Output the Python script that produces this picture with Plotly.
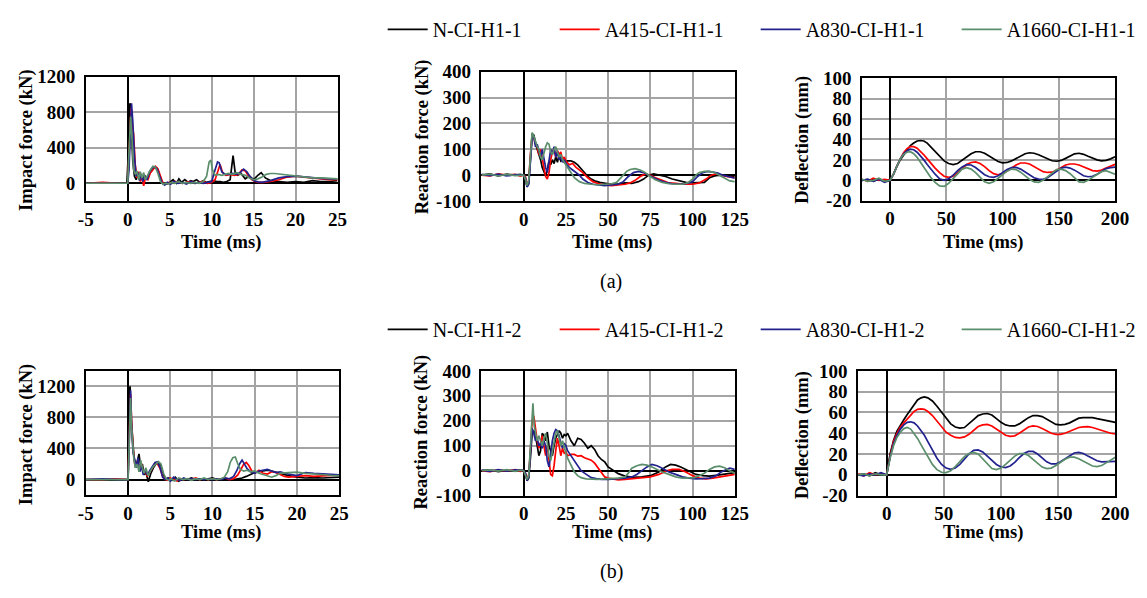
import plotly.graph_objects as go

# ---------------------------------------------------------------- data ----
# Impact force (kN) vs time (ms), series set 1
imp_a_N_t = [-5, -3, -1, -0.1, 0.05, 0.2, 0.3, 0.45, 0.6, 0.8, 1.0, 1.2, 1.4, 1.6, 1.8, 2.0, 2.3, 2.6, 2.9, 3.2,
             3.5, 3.8, 4.1, 4.4, 4.7, 5.0, 5.4, 5.8, 6.1, 6.4, 6.8, 7.2, 7.5, 7.8, 8.2, 8.6, 9.0, 9.4, 9.8, 10.2,
             10.6, 11.0, 11.4, 11.8, 12.2, 12.4, 12.55, 12.8, 13.1, 13.5, 14.0, 14.5, 15.0, 15.5, 15.9, 16.4, 17.0,
             18.0, 19.0, 20.0, 21.0, 22.0, 23.0, 24.0, 25.0]
imp_a_N = [0, 0, 0, 0, 300, 880, 900, 600, 250, 80, 40, 120, 60, 100, 30, 90, 40, 110, 150, 180,
           170, 90, 10, 0, -10, 10, 40, 0, 50, 10, 40, 10, 30, 20, 40, 10, 30, 10, 20, 30,
           20, 20, 10, 20, 40, 200, 310, 120, 90, 110, 50, 80, 40, 90, 120, 60, 30,
           20, 10, 20, 10, 30, 20, 20, 30]
imp_a_R_t = [-5, -3, -1, 0, 0.1, 0.3, 0.4, 0.55, 0.7, 0.9, 1.1, 1.3, 1.5, 1.7, 1.9, 2.1, 2.4, 2.7, 3.0, 3.3,
             3.6, 3.9, 4.2, 4.5, 4.8, 5.2, 5.6, 6.0, 6.5, 7.0, 7.5, 8.0, 8.5, 9.0, 9.5, 10.0, 10.4, 10.8, 11.0, 11.3,
             11.7, 12.2, 12.7, 13.2, 13.6, 14.0, 14.4, 14.8, 15.2, 15.6, 16.2, 17.0, 18.0, 19.0, 20.0, 21.0, 22.0,
             23.0, 24.0, 25.0]
imp_a_R = [0, 10, 0, 0, 200, 750, 850, 650, 550, 200, 60, 130, 20, 80, -30, 60, 40, 120, 160, 190,
           160, 70, 0, -10, 10, 0, 20, 10, 0, 10, 20, 0, 10, 20, 0, 10, 40, 150, 210, 120,
           90, 100, 90, 100, 150, 140, 80, 40, 20, 10, 10, 20, 40, 70, 80, 70, 60, 50, 40, 40]
imp_a_B_t = [-5, -3, -1, 0, 0.15, 0.3, 0.45, 0.6, 0.8, 1.0, 1.2, 1.4, 1.6, 1.8, 2.0, 2.3, 2.6, 2.9, 3.2, 3.5,
             3.8, 4.1, 4.4, 4.7, 5.1, 5.5, 6.0, 6.5, 7.0, 7.5, 8.0, 8.5, 9.0, 9.5, 10.0, 10.4, 10.7, 10.9, 11.2,
             11.6, 12.0, 12.5, 13.0, 13.4, 13.8, 14.2, 14.6, 15.0, 15.5, 16.0, 17, 18, 19, 20, 21, 22, 23, 24, 25]
imp_a_B = [0, 0, 0, 0, 150, 600, 900, 700, 300, 80, 120, 30, 100, 20, 80, 40, 130, 170, 185, 160,
           80, 0, -20, 10, -10, 20, 0, 10, -10, 20, 0, 10, 0, 10, 20, 150, 240, 230, 130,
           100, 100, 110, 100, 120, 160, 130, 70, 30, 15, 10, 30, 60, 75, 80, 70, 60, 55, 50, 50]
imp_a_G_t = [-5, -3, -1, 0, 0.1, 0.25, 0.35, 0.5, 0.7, 0.9, 1.1, 1.3, 1.5, 1.7, 1.9, 2.1, 2.4, 2.7, 3.0, 3.3,
             3.6, 3.9, 4.2, 4.5, 4.8, 5.2, 5.6, 6.0, 6.5, 7.0, 7.5, 8.0, 8.5, 9.0, 9.4, 9.7, 9.9, 10.1, 10.4, 10.8,
             11.2, 11.6, 12.0, 12.5, 13.0, 13.5, 14.0, 14.5, 15.0, 15.5, 16.0, 16.5, 17.0, 17.5, 18.0, 18.5, 19,
             20, 21, 22, 23, 24, 25]
imp_a_G = [0, 0, 0, 0, 250, 650, 750, 500, 150, 100, 140, 40, 130, 60, 120, 40, 100, 150, 190, 180,
           110, 20, -10, 0, -10, 10, 0, 20, 0, 10, 0, 10, 0, 20, 80, 240, 260, 150, 90, 100,
           90, 100, 110, 100, 120, 100, 90, 60, 40, 50, 70, 100, 110, 110, 105, 100, 90,
           80, 70, 60, 60, 55, 50]

# Impact force (kN) vs time (ms), series set 2
imp_b_N_t = [-5, -3, -1, 0, 0.05, 0.15, 0.25, 0.35, 0.5, 0.7, 0.9, 1.1, 1.3, 1.5, 1.7, 1.9, 2.1, 2.4, 2.7, 3.0,
             3.3, 3.6, 3.9, 4.2, 4.5, 4.8, 5.2, 5.6, 6.0, 6.5, 7.0, 7.5, 8.0, 8.5, 9.0, 9.5, 10.0, 10.5, 11.0, 11.5,
             12.0, 12.5, 13.0, 13.5, 14.0, 14.5, 15.0, 15.5, 16.0, 16.5, 17.0, 17.5, 18.0, 19, 20, 21, 22, 23, 24, 25]
imp_b_N = [0, 0, 0, 0, 500, 1150, 1200, 800, 600, 300, 150, 250, 330, 150, 200, 60, 100, -30, 80, 150,
           200, 220, 180, 60, 0, 20, -10, 30, -20, 10, 0, 20, 0, 10, 0, 10, 20, 0, 10, 0,
           10, 0, 10, 20, 40, 70, 90, 100, 110, 120, 110, 90, 80, 50, 30, 20, 25, 20, 25, 30]
imp_b_R_t = [-5, -3, -1.5, 0, 0.1, 0.2, 0.3, 0.45, 0.6, 0.8, 1.0, 1.2, 1.4, 1.6, 1.8, 2.0, 2.3, 2.6, 2.9, 3.2,
             3.5, 3.8, 4.1, 4.4, 4.7, 5.0, 5.4, 5.8, 6.2, 6.6, 7.0, 7.5, 8.0, 8.5, 9.0, 9.5, 10.0, 10.5, 11.0, 11.5,
             12.0, 12.5, 13.0, 13.4, 13.7, 14.0, 14.3, 14.7, 15.1, 15.5, 16.0, 16.5, 17.0, 17.5, 18.0, 18.5, 19,
             20, 21, 22, 23, 24, 25]
imp_b_R = [0, 0, 10, 0, 400, 900, 1100, 700, 400, 200, 180, 250, 120, 200, 80, 120, 40, 100, 160, 210,
           200, 140, 40, 0, -10, 20, 0, -20, 10, 0, 10, 0, 20, 0, 10, 0, 10, 0, 10, 20,
           0, 10, 60, 150, 200, 220, 180, 100, 90, 120, 80, 70, 100, 90, 60, 40, 30,
           40, 50, 40, 45, 55, 60]
imp_b_B_t = [-5, -3, -1, 0, 0.1, 0.2, 0.3, 0.45, 0.6, 0.8, 1.0, 1.2, 1.4, 1.6, 1.8, 2.0, 2.3, 2.6, 2.9, 3.2,
             3.5, 3.8, 4.1, 4.4, 4.7, 5.0, 5.4, 5.8, 6.2, 6.6, 7.0, 7.5, 8.0, 8.5, 9.0, 9.5, 10.0, 10.5, 11.0, 11.5,
             12.0, 12.5, 12.9, 13.2, 13.5, 13.8, 14.1, 14.5, 15.0, 15.5, 16.0, 16.5, 17.0, 17.5, 18.0, 18.5, 19,
             20, 21, 22, 23, 24, 25]
imp_b_B = [0, 10, 0, 0, 300, 800, 1150, 600, 350, 250, 150, 280, 100, 180, 60, 120, 60, 120, 180, 220,
           230, 150, 30, 0, 20, -20, 30, 0, -10, 20, 0, 10, 0, 10, 0, 10, 0, 10, 0, 20,
           10, 40, 120, 200, 250, 200, 140, 100, 80, 110, 120, 130, 110, 90, 100, 80, 70,
           50, 90, 80, 75, 70, 60]
imp_b_G_t = [-5, -3, -1, 0, 0.1, 0.2, 0.3, 0.4, 0.55, 0.7, 0.9, 1.1, 1.3, 1.5, 1.7, 1.9, 2.1, 2.4, 2.7, 3.0,
             3.3, 3.6, 3.9, 4.2, 4.5, 4.8, 5.1, 5.5, 6.0, 6.5, 7.0, 7.5, 8.0, 8.5, 9.0, 9.5, 10.0, 10.5, 11.0, 11.4,
             11.8, 12.1, 12.4, 12.7, 13.0, 13.3, 13.7, 14.1, 14.5, 15.0, 15.5, 16.0, 16.5, 17.0, 17.5, 18.0, 19,
             20, 21, 22, 23, 24, 25]
imp_b_G = [0, 0, 0, 0, 300, 800, 1050, 700, 500, 250, 150, 200, 100, 250, 150, 80, 150, 50, 120, 170,
           200, 230, 200, 80, 10, -10, 10, -20, 20, 0, 10, -10, 10, 0, 20, 0, 10, 0, 10, 30,
           100, 220, 280, 290, 200, 130, 110, 120, 100, 110, 80, 60, 40, 30, 50, 80, 90,
           95, 80, 70, 60, 55, 50]

# Reaction force (kN) vs time (ms), (t, F) pairs
react_a_N = [(-25, 0), (-20, 5), (-15, -3), (-10, 4), (-5, 0), (-2, 3), (0, 0), (1, -10), (2, -45), (3, -30),
             (4, 60), (5, 160), (6, 155), (7, 120), (8, 100), (9, 80), (10, 60), (11, 30), (12, 10), (13, -2),
             (14, 20), (15, 55), (16, 40), (17, 60), (18, 45), (19, 70), (20, 50), (21, 80), (22, 55), (23, 60),
             (24, 50), (26, 55), (28, 55), (30, 50), (32, 40), (34, 25), (36, 12), (38, -5), (40, -15), (42, -22),
             (45, -28), (48, -32), (52, -35), (56, -33), (60, -30), (64, -32), (68, -25), (71, -15), (74, 0),
             (77, 5), (80, 0), (84, -5), (88, -15), (92, -22), (96, -28), (100, -30), (104, -30), (107, -28),
             (110, -10), (113, -3), (116, 0), (120, -3), (125, -5)]
react_a_R = [(-25, 0), (-20, -3), (-15, 5), (-10, 0), (-5, 3), (-2, -4), (0, 0), (1, -5), (2, -40), (3, -20),
             (4, 80), (5, 150), (6, 145), (7, 120), (8, 110), (9, 80), (10, 100), (11, 60), (12, 20), (13, -5),
             (14, -15), (15, 10), (16, 60), (17, 90), (18, 100), (19, 70), (20, 95), (21, 80), (22, 90), (23, 60),
             (24, 70), (25, 55), (27, 40), (29, 45), (31, 30), (33, 20), (35, 10), (38, -10), (41, -25), (44, -32),
             (48, -38), (52, -40), (56, -38), (60, -35), (63, -30), (66, -20), (69, -5), (72, 5), (75, 0),
             (78, -10), (82, -20), (86, -30), (90, -32), (95, -35), (100, -35), (104, -30), (108, -15), (111, 0),
             (114, 5), (117, 0), (120, -5), (125, -10)]
react_a_B = [(-25, 3), (-20, -2), (-15, 4), (-10, -3), (-5, 2), (-2, 0), (0, 0), (1, -10), (2, -45), (3, -35),
             (4, 50), (5, 140), (6, 150), (7, 110), (8, 120), (9, 90), (10, 70), (11, 100), (12, 60), (13, 30),
             (14, 10), (15, 60), (16, 100), (17, 80), (18, 110), (19, 70), (20, 90), (21, 60), (22, 70), (23, 50),
             (24, 60), (25, 45), (27, 30), (29, 20), (31, 10), (33, 0), (35, -15), (38, -28), (41, -35), (44, -38),
             (48, -40), (52, -38), (56, -35), (59, -25), (62, -5), (65, 10), (68, 15), (71, 10), (74, 0),
             (77, -10), (80, -20), (84, -28), (88, -33), (92, -35), (96, -33), (100, -25), (103, -5), (106, 10),
             (109, 15), (112, 12), (115, 8), (118, 0), (121, -5), (125, -12)]
react_a_G = [(-25, 0), (-20, 4), (-15, -3), (-10, 3), (-5, -2), (-2, 0), (0, 0), (1, -15), (2, -40), (3, -20),
             (4, 90), (5, 165), (6, 150), (7, 130), (8, 110), (9, 100), (10, 70), (11, 60), (12, 90), (13, 110),
             (14, 125), (15, 120), (16, 90), (17, 80), (18, 100), (19, 110), (20, 90), (21, 70), (22, 80),
             (23, 60), (24, 50), (25, 40), (26, 30), (28, 10), (30, -10), (33, -25), (36, -32), (40, -35),
             (44, -37), (48, -35), (52, -33), (55, -28), (57, -15), (59, 0), (61, 15), (63, 22), (66, 25),
             (69, 20), (72, 10), (75, -5), (78, -18), (82, -28), (86, -33), (90, -35), (94, -35), (97, -30),
             (100, -15), (102, 0), (104, 10), (107, 15), (110, 15), (113, 10), (116, 0), (119, -12), (122, -22),
             (125, -25)]

react_b_N = [(-25, 0), (-20, 3), (-15, -4), (-10, 2), (-5, -2), (-2, 3), (0, 0), (1, -10), (2, -40), (3, -30),
             (4, 50), (5, 150), (6, 160), (7, 140), (8, 100), (9, 60), (10, 80), (11, 150), (12, 140), (13, 120),
             (14, 155), (15, 100), (16, 80), (17, 60), (18, 100), (19, 130), (20, 145), (21, 160), (22, 150),
             (23, 130), (24, 145), (25, 140), (26, 150), (28, 120), (30, 100), (32, 130), (34, 125), (36, 110),
             (38, 90), (40, 100), (42, 85), (44, 60), (46, 45), (48, 35), (50, 15), (53, 0), (56, -12), (60, -22),
             (65, -27), (70, -25), (75, -20), (80, -5), (84, 15), (87, 25), (90, 22), (93, 15), (96, 5), (99, -5),
             (102, -15), (106, -20), (110, -22), (115, -18), (120, -12), (125, -8)]
react_b_R = [(-25, 0), (-20, -4), (-15, 3), (-10, -2), (-5, 4), (-2, -3), (0, 0), (1, -12), (2, -35), (3, -15),
             (4, 80), (5, 200), (6, 220), (7, 160), (8, 120), (9, 90), (10, 110), (11, 140), (12, 100), (13, 60),
             (14, 100), (15, 40), (16, -15), (17, -20), (18, 20), (19, 80), (20, 130), (21, 100), (22, 60),
             (23, 90), (24, 70), (25, 75), (26, 60), (28, 65), (30, 65), (32, 58), (34, 60), (36, 52), (38, 48),
             (40, 42), (42, 30), (44, 10), (46, -10), (48, -25), (50, -30), (53, -35), (56, -37), (60, -35),
             (65, -32), (70, -30), (75, -25), (80, -15), (85, 0), (88, 5), (92, 5), (96, -5), (100, -20),
             (104, -30), (108, -33), (112, -30), (116, -25), (120, -20), (125, -15)]
react_b_B = [(-25, 2), (-20, -3), (-15, 4), (-10, -2), (-5, 3), (-2, 0), (0, 0), (1, -10), (2, -40), (3, -25),
             (4, 60), (5, 170), (6, 150), (7, 120), (8, 130), (9, 100), (10, 110), (11, 90), (12, 120), (13, 100),
             (14, 40), (15, 15), (16, 60), (17, 120), (18, 150), (19, 165), (20, 160), (21, 140), (22, 110),
             (23, 90), (24, 110), (25, 100), (26, 80), (28, 60), (30, 40), (32, 20), (34, 0), (36, -10), (38, -20),
             (40, -28), (43, -32), (46, -35), (50, -35), (55, -33), (60, -30), (64, -25), (67, -15), (70, 0),
             (73, 15), (76, 25), (79, 20), (82, 10), (86, -5), (90, -15), (94, -25), (98, -30), (102, -33),
             (106, -32), (110, -30), (114, -20), (117, -5), (120, 5), (122, 10), (125, 5)]
react_b_G = [(-25, 0), (-20, 3), (-15, -2), (-10, 4), (-5, -3), (-2, 2), (0, 0), (1, -15), (2, -35), (3, -20),
             (4, 100), (4.8, 230), (5.5, 270), (6.2, 180), (7, 150), (8, 120), (9, 140), (10, 120), (11, 100),
             (12, 130), (13, 150), (14, 110), (15, 60), (16, 40), (17, 80), (18, 120), (19, 150), (20, 160),
             (21, 130), (22, 100), (23, 120), (24, 90), (25, 70), (26, 50), (28, 20), (30, -5), (32, -20),
             (34, -28), (37, -33), (40, -35), (44, -35), (48, -33), (52, -32), (56, -30), (60, -25), (62, -10),
             (64, 10), (67, 20), (70, 25), (73, 22), (76, 15), (79, 5), (82, -5), (86, -15), (90, -25), (94, -30),
             (98, -30), (101, -28), (104, -20), (107, -10), (110, 5), (113, 15), (116, 18), (119, 12), (122, 0),
             (125, -10)]

# Deflection (mm) vs time (ms), shared sampling times
t_defl = [-25, -20, -15, -10, -5, 0, 3, 6, 9, 12, 15, 18, 21, 24, 27, 30, 33, 36,
          40, 44, 48, 52, 56, 60, 64, 68, 72, 76, 80, 84, 88, 92, 96, 100, 104, 108, 112, 116, 120, 124,
          128, 132, 136, 140, 144, 148, 152, 156, 160, 164, 168, 172, 176, 180, 184, 188, 192, 196, 200]
defl_a_N = [0, 1, -1, 1.5, -1, 0, 6, 14, 20, 25, 30, 34, 36.5, 38.5, 39, 38.5, 36.5, 33,
            28, 23, 19, 16.5, 15.5, 16.5, 19.5, 23, 26, 28, 28, 26.5, 24, 21, 18.5, 17.2, 17.5, 19, 21.5, 24, 26,
            27, 26.5, 25, 23, 21, 19.2, 18.7, 19.5, 21.5, 24, 26, 26.5, 25.5, 23.5, 21.5, 20, 19, 19.5, 21, 23]
defl_a_R = [1, -1, 2, 0, 1, 0, 6, 14, 21, 27, 31, 33, 33, 31.5, 28.5, 25, 21, 17,
            12, 7.5, 4, 3, 4, 7.5, 12, 15.5, 17.5, 18, 16.5, 13.5, 9.5, 6.5, 5.5, 6.5, 9, 12, 15, 17, 17,
            16, 13.5, 10.5, 8.5, 7.7, 8, 10, 12.5, 15, 16, 16, 15, 13, 11, 9.5, 9, 10, 12, 14, 15.6]
defl_a_B = [0, 1, -1, 1, -2, 0, 6, 14, 21, 26, 29, 30.5, 30, 27.5, 24, 20, 15.5, 11,
            6, 1.5, 0, 1.5, 5, 9.5, 13, 15.3, 15, 12.5, 9, 5.5, 3.5, 3, 4.5, 7.5, 10.5, 12.5, 12.6, 11, 8,
            5, 2.5, 1.2, 1, 2.5, 5.5, 9, 12, 13, 12, 10, 7, 4.5, 3.5, 4, 6, 9, 11.5, 12.5, 13]
defl_a_G = [1, -1, 0, 2, -1, 0, 6, 14, 21, 25.5, 27.5, 28, 26, 22.5, 18, 13, 8, 3,
            -2, -5.5, -6, -3, 1.5, 6.5, 11, 12.4, 11, 7.5, 3, -1.5, -3, -1.5, 2, 5.5, 9, 11, 10.5, 8, 4.5,
            1, -1.5, -2, 0, 3.5, 7.5, 10.5, 11, 9.5, 6.5, 2.5, -1.5, -2, 0, 3, 6, 8.5, 9.5, 8, 6]

defl_b_N = [0, 1, -1, 2, 0, 0, 20, 33, 42, 48, 53, 58, 63, 68, 72, 74, 75, 74,
            71, 66, 60, 54, 49, 46, 45, 45.5, 49, 53, 57, 58.5, 59, 57.5, 54, 50.5, 48, 47, 47, 49, 52,
            55, 57, 57, 56, 53.5, 50.5, 48.5, 48, 48.5, 50, 52.5, 54.5, 55, 55, 55, 54, 53, 52, 51, 50.5]
defl_b_R = [1, -1, 2, 0, 1, 0, 18, 32, 40, 46, 50, 54, 58, 61, 63, 63.5, 63, 61,
            57, 52, 46, 41, 38, 36, 35.6, 36.5, 39, 43, 46.5, 48, 48.5, 47, 44, 40.5, 38, 37, 37.5, 40, 43,
            46, 47, 46.5, 44.5, 42, 40, 39, 39, 40, 42, 44, 45.5, 46.2, 46.4, 45.5, 44, 42.5, 41, 40, 39.3]
defl_b_B = [0, -1, 1, 0, 2, 0, 17, 30, 38, 44, 48, 50.5, 51, 50, 47, 43, 38, 32,
            24, 16, 10, 6.5, 5.3, 6.5, 10, 15, 20, 23.5, 24, 22, 18, 13.5, 10, 7.5, 7, 8.5, 12, 16.5, 20.5,
            22.5, 22.5, 20, 16, 12.5, 10.5, 10.5, 12.5, 15.5, 18.5, 21, 21.5, 20.5, 18, 15.5, 13.5, 12.5, 12.5,
            13, 13]
defl_b_G = [0, 1, -1, 1, 0, 0, 16, 28, 36, 41, 44.5, 45.5, 44, 40, 35, 29, 23, 17,
            10, 5, 2.5, 2.2, 4, 8, 13, 17.5, 20.5, 21.5, 20, 15.5, 10, 6, 5, 6.5, 10, 14, 18, 20.5, 20.5,
            18.5, 15, 11, 7.5, 6, 6.5, 9, 12, 15, 17, 17, 15.5, 13, 10.5, 8.5, 8, 9, 11.5, 14.5, 17]

names_a = ["N-CI-H1-1", "A415-CI-H1-1", "A830-CI-H1-1", "A1660-CI-H1-1"]
names_b = ["N-CI-H1-2", "A415-CI-H1-2", "A830-CI-H1-2", "A1660-CI-H1-2"]
colors = ["#000000", "#ff0000", "#22228f", "#5b8e6b"]
legend_widths = [117, 146, 146, 132]

for _v in (defl_a_N, defl_a_R, defl_a_B, defl_a_G, defl_b_N, defl_b_R, defl_b_B, defl_b_G):
    assert len(_v) == len(t_defl)
for _t, _v in ((imp_a_N_t, imp_a_N), (imp_a_R_t, imp_a_R), (imp_a_B_t, imp_a_B), (imp_a_G_t, imp_a_G),
               (imp_b_N_t, imp_b_N), (imp_b_R_t, imp_b_R), (imp_b_B_t, imp_b_B), (imp_b_G_t, imp_b_G)):
    assert len(_t) == len(_v)

# --------------------------------------------------------------- layout ----
W, H = 1147, 598
SERIF = "Liberation Serif, Times New Roman, serif"


def fx(px):
    return px / W


def fy(py):
    return 1 - py / H


fig = go.Figure()

# (axis index, left, right, top, bottom) in pixels
panels = [
    (1, 79.3, 336.0, 69.0, 198.0),
    (2, 482.7, 741.0, 64.0, 198.0),
    (3, 870.7, 1128.7, 70.7, 197.7),
    (4, 79.3, 337.7, 374.0, 502.7),
    (5, 482.7, 741.0, 374.0, 503.3),
    (6, 866.7, 1129.0, 374.0, 503.3),
]

tick_font = dict(family=SERIF, size=19, color="black", weight="bold")
axis_common = dict(
    showline=True, linecolor="black", linewidth=1.5, mirror=True,
    showgrid=True, gridcolor="#a4a4a4", gridwidth=2,
    zeroline=True, zerolinecolor="black", zerolinewidth=2,
    ticks="", tickfont=tick_font, fixedrange=True,
)


def ticks(vals):
    # plain hyphen for negative labels
    return dict(tickvals=vals, ticktext=[str(v) for v in vals])


x_specs = {
    1: dict(range=[-5, 25], **ticks([-5, 0, 5, 10, 15, 20, 25])),
    2: dict(range=[-25, 125], **ticks([0, 25, 50, 75, 100, 125])),
    3: dict(range=[-25, 200], **ticks([0, 50, 100, 150, 200])),
    4: dict(range=[-5, 25], **ticks([-5, 0, 5, 10, 15, 20, 25])),
    5: dict(range=[-25, 125], **ticks([0, 25, 50, 75, 100, 125])),
    6: dict(range=[-25, 200], **ticks([0, 50, 100, 150, 200])),
}
y_specs = {
    1: dict(range=[-200, 1200], **ticks([0, 400, 800, 1200])),
    2: dict(range=[-100, 400], **ticks([-100, 0, 100, 200, 300, 400])),
    3: dict(range=[-20, 100], **ticks([-20, 0, 20, 40, 60, 80, 100])),
    4: dict(range=[-200, 1400], **ticks([0, 400, 800, 1200])),
    5: dict(range=[-100, 400], **ticks([-100, 0, 100, 200, 300, 400])),
    6: dict(range=[-20, 100], **ticks([-20, 0, 20, 40, 60, 80, 100])),
}

layout_axes = {}
for idx, x0, x1, ytop, ybot in panels:
    sx = "" if idx == 1 else str(idx)
    layout_axes["xaxis" + sx] = dict(axis_common, domain=[fx(x0), fx(x1)], anchor="y" + sx,
                                     **x_specs[idx])
    layout_axes["yaxis" + sx] = dict(axis_common, domain=[fy(ybot), fy(ytop)], anchor="x" + sx,
                                     ticklabelstandoff=5, **y_specs[idx])


def add_series(idx, xs, ys, i, names, legend_id, show):
    sx = "" if idx == 1 else str(idx)
    fig.add_trace(go.Scatter(
        x=xs, y=ys, mode="lines", name=names[i],
        line=dict(color=colors[i], width=1.7),
        xaxis="x" + sx, yaxis="y" + sx,
        legend=legend_id, showlegend=show, legendwidth=legend_widths[i],
        hoverinfo="skip",
    ))


def unzip(pairs):
    return [p[0] for p in pairs], [p[1] for p in pairs]


imp_a = [(imp_a_N_t, imp_a_N), (imp_a_R_t, imp_a_R), (imp_a_B_t, imp_a_B), (imp_a_G_t, imp_a_G)]
imp_b = [(imp_b_N_t, imp_b_N), (imp_b_R_t, imp_b_R), (imp_b_B_t, imp_b_B), (imp_b_G_t, imp_b_G)]
react_a = [react_a_N, react_a_R, react_a_B, react_a_G]
react_b = [react_b_N, react_b_R, react_b_B, react_b_G]
defl_a = [defl_a_N, defl_a_R, defl_a_B, defl_a_G]
defl_b = [defl_b_N, defl_b_R, defl_b_B, defl_b_G]

for i in range(4):
    add_series(1, imp_a[i][0], imp_a[i][1], i, names_a, "legend", True)
    add_series(2, *unzip(react_a[i]), i, names_a, "legend", False)
    add_series(3, t_defl, defl_a[i], i, names_a, "legend", False)
    add_series(4, imp_b[i][0], imp_b[i][1], i, names_b, "legend2", True)
    add_series(5, *unzip(react_b[i]), i, names_b, "legend2", False)
    add_series(6, t_defl, defl_b[i], i, names_b, "legend2", False)

legend_common = dict(
    orientation="h", xanchor="left", yanchor="middle",
    font=dict(family=SERIF, size=20, color="black"),
    bgcolor="rgba(0,0,0,0)", borderwidth=0, tracegroupgap=0, itemwidth=40,
)

title_font = dict(family=SERIF, size=18.5, color="black", weight="bold")
annotations = []


def label(text, px, py, angle=0, font=title_font):
    annotations.append(dict(
        text=text, x=fx(px), y=fy(py), xref="paper", yref="paper",
        xanchor="center", yanchor="middle", showarrow=False, textangle=angle, font=font,
    ))


# axis titles
for x_title_y in (241, 542):
    label("Time (ms)", 217, x_title_y)
    label("Time (ms)", 616, x_title_y)
    label("Time (ms)", 994, x_title_y)
label("Impact force (kN)", 19, 135, -90)
label("Reaction force (kN)", 422, 131, -90)
label("Deflection (mm)", 810, 134, -90)
label("Impact force (kN)", 19, 440, -90)
label("Reaction force (kN)", 422, 437, -90)
label("Deflection (mm)", 810, 440, -90)

caption_font = dict(family=SERIF, size=20, color="black")
label("(a)", 615, 281, 0, caption_font)
label("(b)", 615, 582, 0, caption_font)

fig.update_layout(
    width=W, height=H,
    margin=dict(l=0, r=0, t=0, b=0),
    paper_bgcolor="white", plot_bgcolor="white",
    showlegend=True,
    legend=dict(legend_common, x=fx(382), y=fy(20)),
    legend2=dict(legend_common, x=fx(382), y=fy(331)),
    annotations=annotations,
    **layout_axes,
)

fig.write_html("out.html")
